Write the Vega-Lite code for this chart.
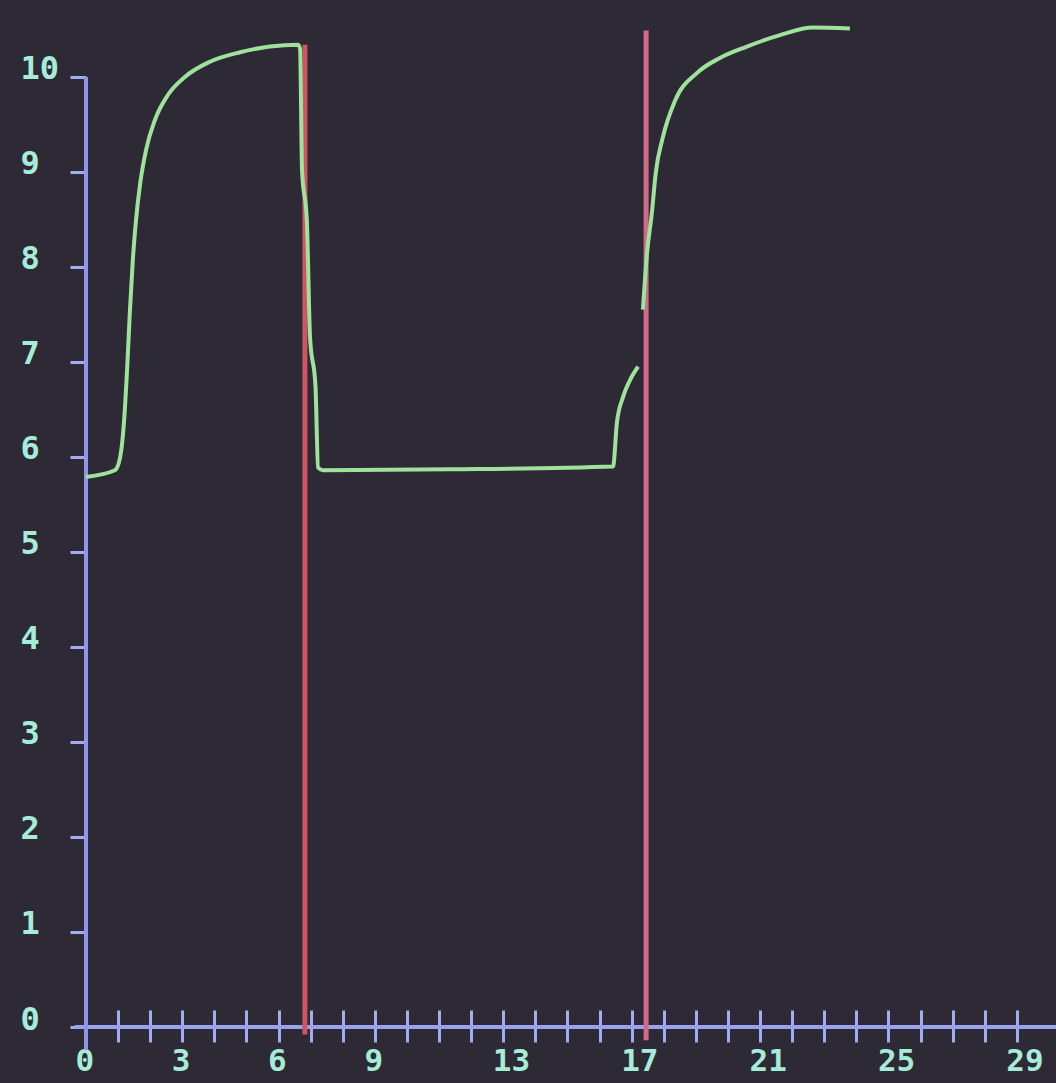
{
  "$schema": "https://vega.github.io/schema/vega-lite/v6.json",
  "width": 970,
  "height": 1027,
  "autosize": {"type": "none"},
  "padding": {"left": 86, "top": 0, "right": 0, "bottom": 56},
  "background": "#2d2a36",
  "config": {
    "view": {"stroke": null},
    "axis": {"grid": false, "domain": false, "title": null}
  },
  "datasets": {
    "curve": [
      {"seg": 1, "x": 0.0, "y": 5.79},
      {"seg": 1, "x": 0.90, "y": 5.86},
      {"seg": 1, "x": 1.06, "y": 5.99},
      {"seg": 1, "x": 1.18, "y": 6.35},
      {"seg": 1, "x": 1.28, "y": 6.92},
      {"seg": 1, "x": 1.37, "y": 7.55},
      {"seg": 1, "x": 1.46, "y": 8.08},
      {"seg": 1, "x": 1.56, "y": 8.50},
      {"seg": 1, "x": 1.68, "y": 8.86},
      {"seg": 1, "x": 1.87, "y": 9.23},
      {"seg": 1, "x": 2.15, "y": 9.55},
      {"seg": 1, "x": 2.55, "y": 9.81},
      {"seg": 1, "x": 3.08, "y": 10.00},
      {"seg": 1, "x": 3.86, "y": 10.16},
      {"seg": 1, "x": 4.80, "y": 10.26},
      {"seg": 1, "x": 5.73, "y": 10.32},
      {"seg": 1, "x": 6.60, "y": 10.34},
      {"seg": 1, "x": 6.67, "y": 10.30},
      {"seg": 1, "x": 6.73, "y": 9.02},
      {"seg": 1, "x": 6.88, "y": 8.49},
      {"seg": 1, "x": 6.98, "y": 7.26},
      {"seg": 1, "x": 7.15, "y": 6.74},
      {"seg": 1, "x": 7.23, "y": 5.89},
      {"seg": 1, "x": 7.38, "y": 5.86},
      {"seg": 1, "x": 11.34, "y": 5.87},
      {"seg": 1, "x": 16.42, "y": 5.90},
      {"seg": 1, "x": 16.54, "y": 6.36},
      {"seg": 1, "x": 16.73, "y": 6.63},
      {"seg": 1, "x": 16.95, "y": 6.81},
      {"seg": 1, "x": 17.20, "y": 6.95},
      {"seg": 2, "x": 17.35, "y": 7.55},
      {"seg": 2, "x": 17.48, "y": 8.15},
      {"seg": 2, "x": 17.63, "y": 8.57},
      {"seg": 2, "x": 17.75, "y": 8.99},
      {"seg": 2, "x": 17.96, "y": 9.35},
      {"seg": 2, "x": 18.35, "y": 9.75},
      {"seg": 2, "x": 19.03, "y": 10.04},
      {"seg": 2, "x": 19.75, "y": 10.20},
      {"seg": 2, "x": 20.59, "y": 10.32},
      {"seg": 2, "x": 21.62, "y": 10.44},
      {"seg": 2, "x": 22.65, "y": 10.52},
      {"seg": 2, "x": 23.80, "y": 10.51}
    ],
    "markers": [
      {"line": "a", "x": 6.82, "y": 10.34, "y2": -0.08},
      {"line": "b", "x": 17.45, "y": 10.49, "y2": -0.14}
    ],
    "xline": [{"x": -0.35, "x2": 30.22, "y": 0}],
    "yline": [{"x": 0, "y": -0.24, "y2": 10}]
  },
  "encoding": {
    "x": {
      "field": "x", "type": "quantitative",
      "scale": {"domain": [0, 30.22], "nice": false, "zero": false},
      "axis": {
        "values": [0, 1, 2, 3, 4, 5, 6, 7, 8, 9, 10, 11, 12, 13, 14, 15, 16, 17, 18, 19, 20, 21, 22, 23, 24, 25, 26, 27, 28, 29],
        "format": "d",
        "labelExpr": "indexof([0,3,6,9,13,17,21,25,29], datum.value) >= 0 ? datum.label : ''",
        "offset": -17,
        "tickSize": 32,
        "tickWidth": 3,
        "tickColor": "#a3abf2",
        "labelPadding": 4,
        "labelAlign": "left",
        "labelOffset": -11,
        "labelBaseline": "top",
        "labelFlush": false,
        "labelOverlap": false,
        "labelBound": false,
        "labelFont": "DejaVu Sans Mono",
        "labelFontWeight": "bold",
        "labelFontSize": 31,
        "labelColor": "#a6ecd8"
      }
    },
    "y": {
      "field": "y", "type": "quantitative",
      "scale": {"domain": [0, 10.81], "nice": false, "zero": false},
      "axis": {
        "values": [0, 1, 2, 3, 4, 5, 6, 7, 8, 9, 10],
        "format": "d",
        "tickSize": 16,
        "tickWidth": 3,
        "tickColor": "#a3abf2",
        "labelPadding": 50,
        "labelAlign": "left",
        "labelBaseline": "middle",
        "labelOffset": -8,
        "labelFlush": false,
        "labelOverlap": false,
        "labelBound": false,
        "labelFont": "DejaVu Sans Mono",
        "labelFontWeight": "bold",
        "labelFontSize": 32,
        "labelColor": "#a6ecd8"
      }
    }
  },
  "layer": [
    {
      "data": {"name": "xline"},
      "mark": {"type": "rule", "color": "#9aa4ee", "strokeWidth": 4},
      "encoding": {
        "x2": {"field": "x2"}
      }
    },
    {
      "data": {"name": "yline"},
      "mark": {"type": "rule", "color": "#8d96ea", "strokeWidth": 4},
      "encoding": {
        "y2": {"field": "y2"}
      }
    },
    {
      "data": {"name": "markers"},
      "mark": {"type": "rule", "strokeWidth": 5},
      "encoding": {
        "y2": {"field": "y2"},
        "color": {
          "field": "line", "type": "nominal",
          "scale": {"domain": ["a", "b"], "range": ["#cf5564", "#d06a88"]},
          "legend": null
        }
      }
    },
    {
      "data": {"name": "curve"},
      "mark": {"type": "line", "color": "#9fe29b", "strokeWidth": 4, "interpolate": "monotone"},
      "encoding": {
        "detail": {"field": "seg", "type": "nominal"}
      }
    }
  ]
}
